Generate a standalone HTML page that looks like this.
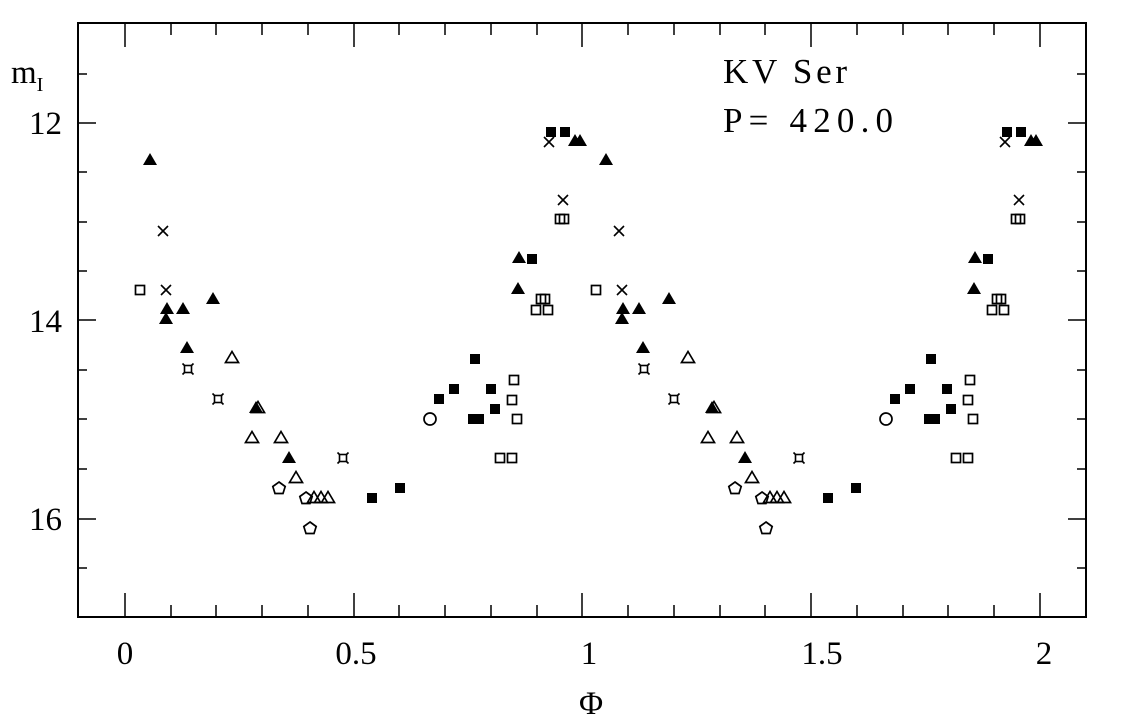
<!DOCTYPE html>
<html><head><meta charset="utf-8"><style>
html,body{margin:0;padding:0;background:#fff;}
svg{display:block;}
text{font-family:"Liberation Serif",serif;fill:#000;}
</style></head><body>
<svg width="1134" height="720" viewBox="0 0 1134 720" xmlns="http://www.w3.org/2000/svg">
<defs>
<symbol id="ft" overflow="visible"><polygon points="0,-7 7,5 -7,5" fill="#000"/></symbol>
<symbol id="ot" overflow="visible"><polygon points="0,-6.5 6.5,4.5 -6.5,4.5" fill="none" stroke="#000" stroke-width="1.7"/></symbol>
<symbol id="fs" overflow="visible"><rect x="-5" y="-5" width="10" height="10" fill="#000"/></symbol>
<symbol id="os" overflow="visible"><rect x="-4.5" y="-4.5" width="9" height="9" fill="none" stroke="#000" stroke-width="1.7"/></symbol>
<symbol id="xx" overflow="visible"><path d="M-5,-5L5,5M-5,5L5,-5" stroke="#000" stroke-width="1.6"/></symbol>
<symbol id="st" overflow="visible"><rect x="-3.5" y="-3.5" width="7" height="7" fill="none" stroke="#000" stroke-width="1.6"/><path d="M-5.5,-5.5L-3.5,-3.5M5.5,-5.5L3.5,-3.5M-5.5,5.5L-3.5,3.5M5.5,5.5L3.5,3.5" stroke="#000" stroke-width="1.6"/></symbol>
<symbol id="op" overflow="visible"><polygon points="0,-6 6.2,-1.5 4,5.5 -4,5.5 -6.2,-1.5" fill="none" stroke="#000" stroke-width="1.7"/></symbol>
<symbol id="oc" overflow="visible"><circle r="6" fill="none" stroke="#000" stroke-width="1.7"/></symbol>
</defs>
<g id="cyc">
<use href="#os" x="140" y="290"/>
<use href="#ft" x="150" y="160"/>
<use href="#xx" x="163" y="231"/>
<use href="#xx" x="166" y="290"/>
<use href="#ft" x="167" y="309"/>
<use href="#ft" x="166" y="319"/>
<use href="#ft" x="183" y="309"/>
<use href="#ft" x="187" y="348"/>
<use href="#st" x="188" y="369"/>
<use href="#ft" x="213" y="299"/>
<use href="#st" x="218" y="399"/>
<use href="#ot" x="232" y="358"/>
<use href="#ot" x="252" y="438"/>
<use href="#ft" x="256" y="408"/>
<use href="#ot" x="258" y="408"/>
<use href="#ot" x="281" y="438"/>
<use href="#ft" x="289" y="458"/>
<use href="#op" x="279" y="488"/>
<use href="#ot" x="296" y="478"/>
<use href="#op" x="306" y="498"/>
<use href="#ot" x="314" y="498"/>
<use href="#ot" x="321" y="498"/>
<use href="#ot" x="328" y="498"/>
<use href="#op" x="310" y="528"/>
<use href="#st" x="343" y="458"/>
<use href="#fs" x="372" y="498"/>
<use href="#fs" x="400" y="488"/>
<use href="#oc" x="430" y="419"/>
<use href="#fs" x="439" y="399"/>
<use href="#fs" x="454" y="389"/>
<use href="#fs" x="473" y="419"/>
<use href="#fs" x="479" y="419"/>
<use href="#fs" x="475" y="359"/>
<use href="#fs" x="491" y="389"/>
<use href="#fs" x="495" y="409"/>
<use href="#os" x="500" y="458"/>
<use href="#os" x="512" y="458"/>
<use href="#os" x="514" y="380"/>
<use href="#os" x="512" y="400"/>
<use href="#os" x="517" y="419"/>
<use href="#ft" x="518" y="289"/>
<use href="#ft" x="519" y="258"/>
<use href="#fs" x="532" y="259"/>
<use href="#os" x="541" y="299"/>
<use href="#os" x="545" y="299"/>
<use href="#os" x="536" y="310"/>
<use href="#os" x="548" y="310"/>
<use href="#xx" x="549" y="142"/>
<use href="#fs" x="551" y="132"/>
<use href="#fs" x="565" y="132"/>
<use href="#xx" x="563" y="200"/>
<use href="#os" x="560" y="219"/>
<use href="#os" x="564" y="219"/>
<use href="#ft" x="575" y="141"/>
<use href="#ft" x="580" y="141"/>
</g>
<use href="#cyc" transform="translate(456,0)"/>
<rect x="78" y="23" width="1008" height="594" fill="none" stroke="#000" stroke-width="2"/>
<g stroke="#000" stroke-width="1.5">
<path d="M78,74h9M78,123h18M78,172h9M78,222h9M78,271h9M78,320h18M78,370h9M78,419h9M78,469h9M78,519h18M78,568h9"/>
<path d="M1086,74h-9M1086,123h-18M1086,172h-9M1086,222h-9M1086,271h-9M1086,320h-18M1086,370h-9M1086,419h-9M1086,469h-9M1086,519h-18M1086,568h-9"/>
<path d="M125,617v-24M171,617v-12M216,617v-12M262,617v-12M308,617v-12M354,617v-24M399,617v-12M445,617v-12M491,617v-12M537,617v-12M582,617v-24M628,617v-12M674,617v-12M720,617v-12M765,617v-12M811,617v-24M857,617v-12M903,617v-12M948,617v-12M994,617v-12M1040,617v-24"/>
<path d="M125,23v24M171,23v12M216,23v12M262,23v12M308,23v12M354,23v24M399,23v12M445,23v12M491,23v12M537,23v12M582,23v24M628,23v12M674,23v12M720,23v12M765,23v12M811,23v24M857,23v12M903,23v12M948,23v12M994,23v12M1040,23v24"/>
</g>
<g font-size="33">
<text x="62" y="134" text-anchor="end">12</text>
<text x="62" y="332" text-anchor="end">14</text>
<text x="62" y="530" text-anchor="end">16</text>
<text x="125" y="664" text-anchor="middle">0</text>
<text x="356" y="664" text-anchor="middle">0.5</text>
<text x="589" y="664" text-anchor="middle">1</text>
<text x="822" y="664" text-anchor="middle">1.5</text>
<text x="1044" y="664" text-anchor="middle">2</text>
<text x="591" y="714" text-anchor="middle">Φ</text>
<text x="11" y="83">m<tspan font-size="20" dy="8">I</tspan></text>
<text x="723" y="83" font-size="35" textLength="124" lengthAdjust="spacing">KV Ser</text>
<text x="723" y="132" font-size="35" textLength="170" lengthAdjust="spacing">P= 420.0</text>
</g>
</svg>
</body></html>
